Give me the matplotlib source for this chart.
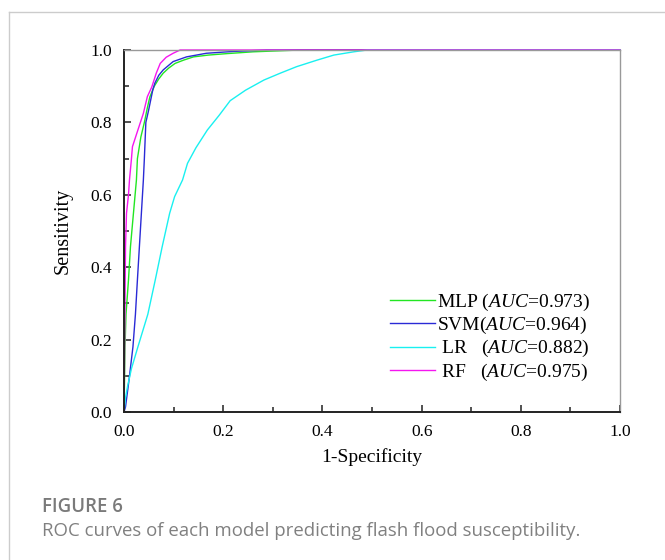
import matplotlib
matplotlib.use("Agg")
import matplotlib.pyplot as plt
from matplotlib.lines import Line2D


# values (1-specificity, sensitivity)
mlp_fpr = [0, 0.001, 0.002, 0.004, 0.009, 0.013, 0.019, 0.025, 0.027, 0.034, 0.041,
           0.047, 0.052, 0.061, 0.070, 0.079, 0.090, 0.103, 0.120, 0.140, 0.170,
           0.207, 0.260, 0.355, 1.0]
mlp_tpr = [0, 0.09, 0.18, 0.27, 0.365, 0.457, 0.549, 0.641, 0.70, 0.76, 0.80,
           0.84, 0.87, 0.90, 0.92, 0.936, 0.95, 0.963, 0.972, 0.981, 0.986,
           0.99, 0.995, 1.0, 1.0]

svm_fpr = [0, 0.003, 0.010, 0.018, 0.023, 0.027, 0.031, 0.035, 0.039, 0.041, 0.044,
           0.049, 0.052, 0.058, 0.062, 0.070, 0.079, 0.099, 0.126, 0.166, 0.22,
           0.287, 1.0]
svm_tpr = [0, 0.014, 0.088, 0.18, 0.27, 0.365, 0.457, 0.549, 0.641, 0.70, 0.80,
           0.83, 0.85, 0.89, 0.908, 0.93, 0.945, 0.968, 0.981, 0.991, 0.996,
           1.0, 1.0]

lr_fpr = [0, 0.003, 0.007, 0.015, 0.028, 0.048, 0.063, 0.077, 0.092, 0.102, 0.118,
          0.128, 0.145, 0.168, 0.192, 0.214, 0.245, 0.282, 0.315, 0.348, 0.389,
          0.423, 0.463, 0.49, 1.0]
lr_tpr = [0, 0.04, 0.07, 0.12, 0.18, 0.27, 0.365, 0.457, 0.549, 0.595, 0.641,
          0.687, 0.730, 0.779, 0.820, 0.860, 0.889, 0.917, 0.936, 0.954, 0.972,
          0.986, 0.995, 1.0, 1.0]

rf_fpr = [0, 0.001, 0.002, 0.003, 0.005, 0.009, 0.011, 0.015, 0.017, 0.027, 0.039,
          0.047, 0.056, 0.065, 0.073, 0.085, 0.099, 0.113, 1.0]
rf_tpr = [0, 0.15, 0.30, 0.457, 0.549, 0.60, 0.641, 0.70, 0.733, 0.775, 0.825,
          0.871, 0.898, 0.936, 0.963, 0.98, 0.991, 1.0, 1.0]

models = ["MLP", "SVM", "LR", "RF"]
auc = ["0.973", "0.964", "0.882", "0.975"]
name_pad = ["MLP ", "SVM", " LR   ", " RF   "]
colors = ["#22e622", "#2a2ad6", "#19f0f0", "#f516f0"]

plt.rcParams["font.family"] = ["Liberation Serif", "DejaVu Serif"]
plt.rcParams["mathtext.fontset"] = "custom"
plt.rcParams["mathtext.rm"] = "Liberation Serif"
plt.rcParams["mathtext.it"] = "Liberation Serif:italic"

fig = plt.figure(figsize=(6.65, 5.6), dpi=100)
ax = fig.add_axes([0.1865, 0.2643, 0.7459, 0.6464])

curves = [(mlp_fpr, mlp_tpr), (svm_fpr, svm_tpr), (lr_fpr, lr_tpr), (rf_fpr, rf_tpr)]
for (x, y), c in zip(curves, colors):
    ax.plot(x, y, color=c, lw=1.0, clip_on=False)

ax.set_xlim(0, 1)
ax.set_ylim(0, 1)
ax.set_xticks([0, 0.2, 0.4, 0.6, 0.8, 1.0])
ax.set_yticks([0, 0.2, 0.4, 0.6, 0.8, 1.0])
ax.set_xticks([0.1, 0.3, 0.5, 0.7, 0.9], minor=True)
ax.set_yticks([0.1, 0.3, 0.5, 0.7, 0.9], minor=True)
ax.set_xticklabels(["0.0", "0.2", "0.4", "0.6", "0.8", "1.0"])
ax.set_yticklabels(["0.0", "0.2", "0.4", "0.6", "0.8", "1.0"])
ax.tick_params(which="both", direction="in", top=False, right=False,
               labelsize=12.5, width=1.1, color="#222222")
ax.tick_params(which="major", length=5, pad=8.5)
ax.tick_params(which="minor", length=3.5)

for s in ["left", "bottom"]:
    ax.spines[s].set_linewidth(1.4)
    ax.spines[s].set_color("#222222")
for s in ["top", "right"]:
    ax.spines[s].set_linewidth(1.0)
    ax.spines[s].set_color("#999999")

ax.set_xlabel("1-Specificity", fontsize=14, labelpad=6)
ax.set_ylabel("Sensitivity", fontsize=14.5, labelpad=13)

handles = [Line2D([], [], color=c, lw=1.0) for c in colors]
labels = [n + r"($\mathit{AUC}$=" + a + ")" for n, a in zip(name_pad, auc)]
ax.legend(handles, labels, loc="upper left", bbox_to_anchor=(0.536, 0.333),
          frameon=False, fontsize=14, handlelength=2.3, handletextpad=0.1,
          labelspacing=0.12, borderpad=0, borderaxespad=0)

# page frame and caption
fig.add_artist(Line2D([9 / 665, 9 / 665], [0, 1 - 12 / 560], color="#cccccc", lw=1.0))
fig.add_artist(Line2D([9 / 665, 1], [1 - 12 / 560, 1 - 12 / 560], color="#cccccc", lw=1.0))
fig.text(42 / 665, 1 - 512 / 560, "FIGURE 6", family="Open Sans", weight="semibold",
         fontsize=13.4, color="#7a7a7a", va="baseline")
fig.text(42 / 665, 1 - 536 / 560,
         "ROC curves of each model predicting flash flood susceptibility.",
         family="Open Sans", fontsize=13.4, color="#808080", va="baseline")

fig.savefig("out.png", dpi=100)
